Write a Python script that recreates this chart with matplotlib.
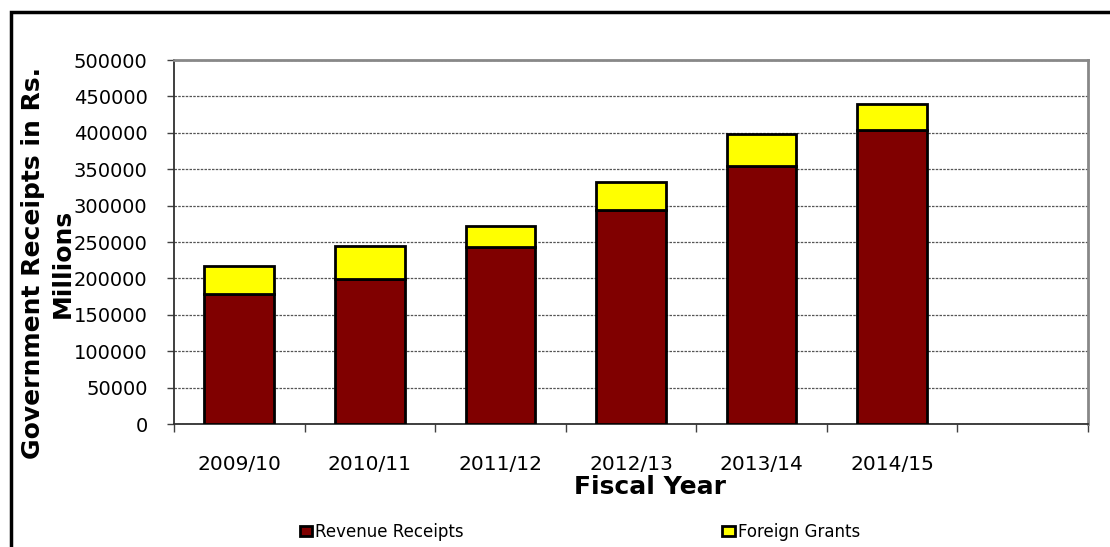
import matplotlib.pyplot as plt
from matplotlib.patches import Rectangle
import numpy as np

# Government receipts by fiscal year (Rs. millions)
years = ["2009/10", "2010/11", "2011/12", "2012/13", "2013/14", "2014/15"]
revenue_receipts = [179000, 198500, 242500, 294500, 355000, 403500]
foreign_grants = [38000, 46000, 30000, 37500, 43500, 36500]

n_slots = 7  # one empty category slot on the right
x = np.arange(len(years))

fig = plt.figure(figsize=(11.1, 5.47), dpi=100)
ax = fig.add_axes([174 / 1110, 1 - 424 / 547, (1088 - 174) / 1110, (424 - 60) / 547])

bar_w = 0.535
ax.bar(x, revenue_receipts, width=bar_w, color="#800000", edgecolor="black",
       linewidth=2, label="Revenue Receipts", zorder=3)
ax.bar(x, foreign_grants, width=bar_w, bottom=revenue_receipts, color="#FFFF00",
       edgecolor="black", linewidth=2, label="Foreign Grants", zorder=3)

ax.set_xlim(-0.5, n_slots - 0.5)
ax.set_ylim(0, 500000)
ax.set_yticks(np.arange(0, 500001, 50000))
ax.yaxis.grid(True, linestyle=(0, (2, 1)), color="#555555", linewidth=0.9, zorder=0)

# ticks between categories, labels at the centres
ax.set_xticks(np.arange(-0.5, n_slots, 1.0))
ax.set_xticklabels([])
ax.set_xticks(x, minor=True)
ax.set_xticklabels(years, minor=True, fontsize=14.5)
ax.tick_params(axis="x", which="minor", length=0, pad=22)
ax.tick_params(axis="x", which="major", length=6, width=1, color="#404040", direction="out")
ax.tick_params(axis="y", length=5, width=1, color="#404040", pad=14, labelsize=14)

for side in ("left", "bottom"):
    ax.spines[side].set_color("#303030")
    ax.spines[side].set_linewidth(1.3)
for side in ("top", "right"):
    ax.spines[side].set_color("#888888")
    ax.spines[side].set_linewidth(2)

fig.text(650 / 1110, 1 - 487 / 547, "Fiscal Year", fontsize=18, fontweight="bold",
         ha="center", va="center")
fig.text(48 / 1110, 1 - 263 / 547, "Government Receipts in Rs.\nMillions", fontsize=18,
         fontweight="bold", rotation=90, ha="center", va="center", linespacing=1.3,
         multialignment="center")

fig.legend(loc="center", bbox_to_anchor=(580 / 1110, 1 - 532 / 547), ncol=2,
           frameon=False, fontsize=12, handlelength=0.75, handleheight=0.6,
           handletextpad=0.2, columnspacing=15.5, borderpad=0)

# outer chart border
fig.patches.append(Rectangle((11 / 1110, -0.1), 1.2, 1 - 12 / 547 + 0.1,
                             transform=fig.transFigure, fill=False,
                             edgecolor="black", linewidth=2.5))

fig.savefig("out.png", dpi=100)
